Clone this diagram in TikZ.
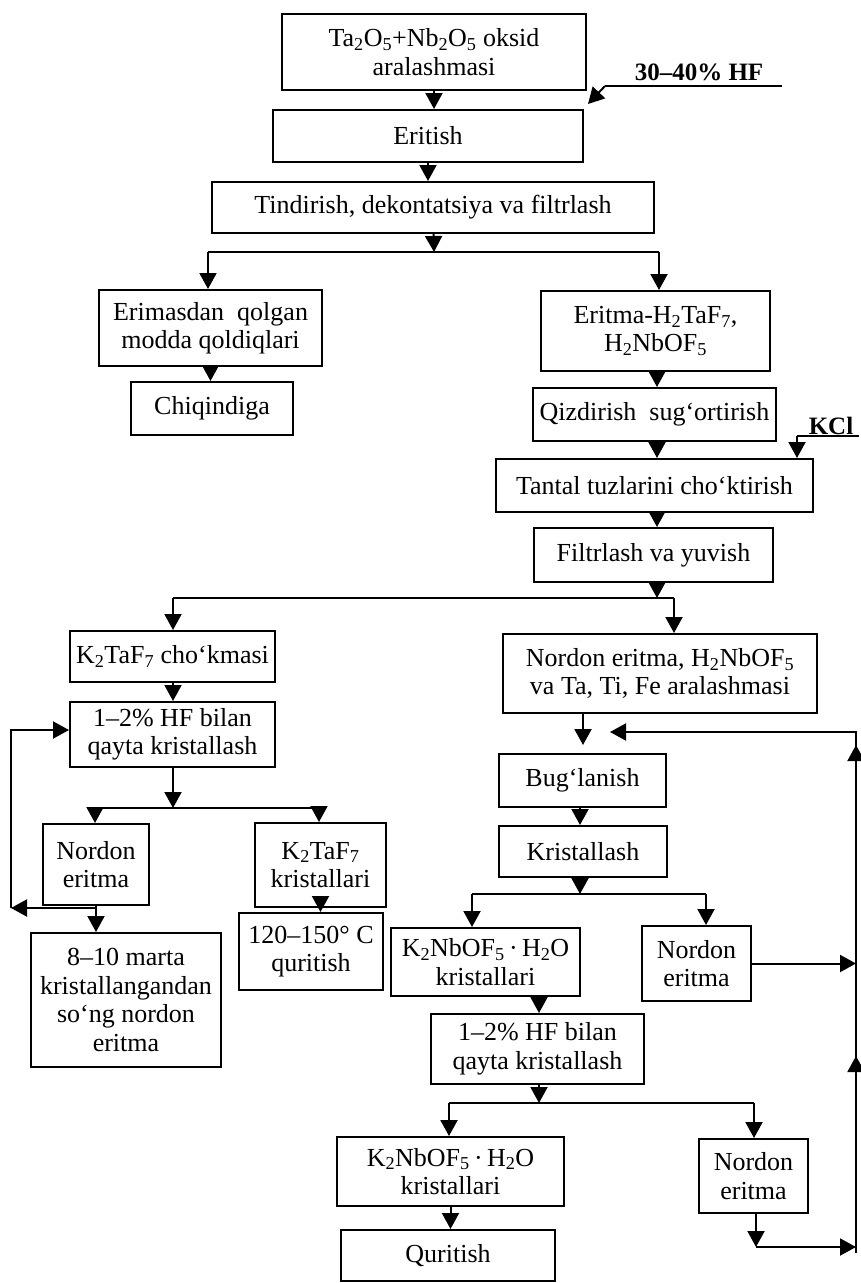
\documentclass[tikz,border=0pt]{standalone}
\usepackage{fontspec}
\setmainfont{Liberation Serif}
\usetikzlibrary{arrows.meta,calc}
\tikzset{
 box/.style={draw, line width=2pt, align=center, inner sep=1pt, font=\fontsize{26}{28.5}\selectfont},
 arr/.style={line width=2pt, -{Triangle[length=16pt,width=17pt]}},
 ln/.style={line width=2pt},
 lbl/.style={font=\fontsize{25}{28}\selectfont\bfseries},
}
\newcommand{\sbs}[1]{\textsubscript{#1}}
\begin{document}
\begin{tikzpicture}[x=1pt,y=-1pt]
\useasboundingbox (0,0) rectangle (860,1283);
% nodes
\node[box, minimum width=304pt, minimum height=76pt] (top) at (434,52) {Ta\sbs{2}O\sbs{5}+Nb\sbs{2}O\sbs{5} oksid\\aralashmasi};
\node[box, minimum width=310pt, minimum height=52pt] (eritish) at (428,136) {Eritish};
\node[box, minimum width=442pt, minimum height=51pt] (tindir) at (433,207.5) {Tindirish, dekontatsiya va filtrlash};
\node[box, minimum width=223pt, minimum height=76pt] (erimas) at (210.5,328) {Erimasdan\ \ qolgan\\modda qoldiqlari};
\node[box, minimum width=162pt, minimum height=53pt] (chiq) at (212,408.5) {Chiqindiga};
\node[box, minimum width=229pt, minimum height=80pt] (eritma) at (655.5,331) {Eritma-H\sbs{2}TaF\sbs{7},\\H\sbs{2}NbOF\sbs{5}};
\node[box, minimum width=243pt, minimum height=53pt] (qizd) at (654.5,414.5) {Qizdirish\ \ sug‘ortirish};
\node[box, minimum width=317pt, minimum height=53pt] (tantal) at (654.5,485.5) {Tantal tuzlarini cho‘ktirish};
\node[box, minimum width=239pt, minimum height=54pt] (filtr) at (653.5,555) {Filtrlash va yuvish};
\node[box, minimum width=205pt, minimum height=51pt] (k2taf) at (172.5,656.5) {K\sbs{2}TaF\sbs{7} cho‘kmasi};
\node[box, minimum width=314pt, minimum height=79pt] (nordonR) at (660,673.5) {Nordon eritma, H\sbs{2}NbOF\sbs{5}\\va Ta, Ti, Fe aralashmasi};
\node[box, minimum width=205pt, minimum height=65pt] (hfL) at (172.5,734.5) {1–2\% HF bilan\\qayta kristallash};
\node[box, minimum width=167pt, minimum height=53pt] (bug) at (582.5,780.5) {Bug‘lanish};
\node[box, minimum width=168pt, minimum height=51pt] (krist) at (583,851.5) {Kristallash};
\node[box, minimum width=106pt, minimum height=81pt] (nordL) at (96,864.5) {Nordon\\eritma};
\node[box, minimum width=131pt, minimum height=84pt] (k2tafkr) at (320.5,865) {K\sbs{2}TaF\sbs{7}\\kristallari};
\node[box, minimum width=190pt, minimum height=134pt] (marta) at (126,1000) {8–10 marta\\kristallangandan\\so‘ng nordon\\eritma};
\node[box, minimum width=144pt, minimum height=77pt] (quri1) at (311,951.5) {120–150° C\\quritish};
\node[box, minimum width=189pt, minimum height=68pt] (k2nb1) at (485.5,962) {K\sbs{2}NbOF\sbs{5}\,·\,H\sbs{2}O\\kristallari};
\node[box, minimum width=109pt, minimum height=75pt] (nord1) at (696.5,963.5) {Nordon\\eritma};
\node[box, minimum width=213pt, minimum height=70pt] (hf2) at (537.5,1049) {1–2\% HF bilan\\qayta kristallash};
\node[box, minimum width=227pt, minimum height=69pt] (k2nb2) at (450.5,1171.5) {K\sbs{2}NbOF\sbs{5}\,·\,H\sbs{2}O\\kristallari};
\node[box, minimum width=109pt, minimum height=74pt] (nord2) at (753.5,1176) {Nordon\\eritma};
\node[box, minimum width=214pt, minimum height=51pt] (quritish) at (448,1255.5) {Quritish};
% labels
\node[lbl] (hf) at (699,72) {30–40\% HF};
\node[lbl] (kcl) at (831,426) {KCl};
% coordinates
\coordinate (hfA) at (782,86);
\coordinate (hfB) at (605,86);
\coordinate (hfT) at (588,104);
\coordinate (kclR) at (859,436);
\coordinate (kclL) at (797,436);
\coordinate (b1L) at (208,252);
\coordinate (b1R) at (659,252);
\coordinate (b1M) at (434,252);
\coordinate (b2L) at (173,598);
\coordinate (b2R) at (674,598);
\coordinate (b2M) at (657,598);
\coordinate (b3L) at (95,808);
\coordinate (b3R) at (319,808);
\coordinate (b3M) at (173,808);
\coordinate (lp) at (96,908);
\coordinate (lc) at (11,908);
\coordinate (lt) at (11,730);
\coordinate (j1) at (583,745);
\coordinate (rvT) at (856,732);
\coordinate (rvB) at (856,1253);
\coordinate (rvL) at (610,732);
\coordinate (b4L) at (472,894);
\coordinate (b4R) at (706,894);
\coordinate (b4M) at (580,894);
\coordinate (c1) at (539,0);
\coordinate (b5L) at (449,1103);
\coordinate (b5R) at (754,1103);
\coordinate (b5M) at (539,1103);
\coordinate (j2) at (756,1247);
\coordinate (c2) at (657,0);
\coordinate (c3) at (580,0);
% connectors
\draw[arr] (top) -- (top |- eritish.north);
\draw[ln] (hfA) -- (hfB);
\draw[arr] (hfB) -- (hfT);
\draw[arr] (eritish) -- (eritish |- tindir.north);
\draw[arr] (tindir) -- (b1M);
\draw[ln] (b1L) -- (b1R);
\draw[arr] (b1L) -- (b1L |- erimas.north);
\draw[arr] (b1R) -- (b1R |- eritma.north);
\draw[arr] (erimas) -- (erimas |- chiq.north);
\draw[arr] (eritma.south -| c2) -- (qizd.north -| c2);
\draw[arr] (qizd.south -| c2) -- (tantal.north -| c2);
\draw[ln] (kclR) -- (kclL);
\draw[arr] (kclL) -- (kclL |- tantal.north);
\draw[arr] (tantal.south -| c2) -- (filtr.north -| c2);
\draw[arr] (filtr.south -| c2) -- (b2M);
\draw[ln] (b2L) -- (b2R);
\draw[arr] (b2L) -- (b2L |- k2taf.north);
\draw[arr] (b2R) -- (b2R |- nordonR.north);
\draw[arr] (k2taf.south -| b2L) -- (hfL.north -| b2L);
\draw[arr] (hfL.south -| b3M) -- (b3M);
\draw[ln] (b3L) -- (b3R);
\draw[arr] (b3L) -- (b3L |- nordL.north);
\draw[arr] (b3R) -- (b3R |- k2tafkr.north);
\draw[arr] (nordL) -- (nordL |- marta.north);
\draw[arr] (lp) -- (lc);
\draw[arr] (lc) -- (lt) -- (hfL.west |- lt);
\draw[arr] (k2tafkr) -- (k2tafkr |- quri1.north);
\draw[arr] (nordonR.south -| j1) -- (j1);
\draw[arr] (rvB) -- (rvT) -- (rvL);
\draw[arr] (856,1084) -- (856,1056);
\draw[arr] (856,774) -- (856,745);
\draw[arr] (bug.south -| c3) -- (krist.north -| c3);
\draw[arr] (krist.south -| c3) -- (b4M);
\draw[ln] (b4L) -- (b4R);
\draw[arr] (b4L) -- (b4L |- k2nb1.north);
\draw[arr] (b4R) -- (b4R |- nord1.north);
\draw[arr] (nord1) -- (rvT |- nord1);
\draw[arr] (k2nb1.south -| c1) -- (hf2.north -| c1);
\draw[arr] (hf2.south -| c1) -- (b5M);
\draw[ln] (b5L) -- (b5R);
\draw[arr] (b5L) -- (b5L |- k2nb2.north);
\draw[arr] (b5R) -- (b5R |- nord2.north);
\draw[arr] (nord2.south -| j2) -- (j2);
\draw[arr] (j2) -- (rvT |- j2);
\draw[arr] (k2nb2) -- (k2nb2 |- quritish.north);
\end{tikzpicture}
\end{document}
